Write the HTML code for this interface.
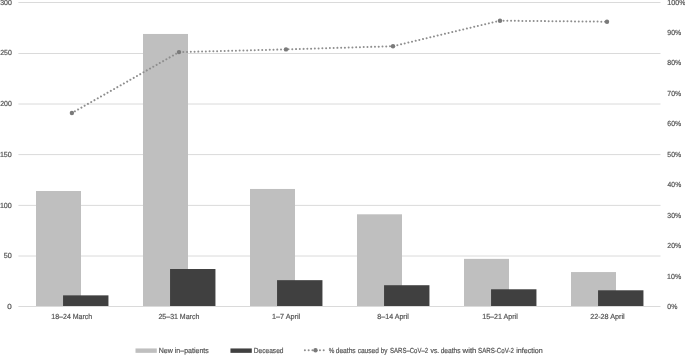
<!DOCTYPE html>
<html lang="en"><head><meta charset="utf-8"><title>Chart</title>
<style>html,body{margin:0;padding:0;background:#fff}body{width:685px;height:355px;overflow:hidden}svg{display:block}text{text-rendering:geometricPrecision;stroke:#555555;stroke-width:0.2px;font-family:"Liberation Sans",Arial,sans-serif;font-size:7.4px;fill:#555555}</style></head><body>
<svg width="685" height="355" viewBox="0 0 685 355">
<rect width="685" height="355" fill="#ffffff"/>
<line x1="18.4" y1="256.00" x2="660.5" y2="256.00" stroke="#dadada" stroke-width="1"/>
<line x1="18.4" y1="205.40" x2="660.5" y2="205.40" stroke="#dadada" stroke-width="1"/>
<line x1="18.4" y1="154.60" x2="660.5" y2="154.60" stroke="#dadada" stroke-width="1"/>
<line x1="18.4" y1="104.00" x2="660.5" y2="104.00" stroke="#dadada" stroke-width="1"/>
<line x1="18.4" y1="53.50" x2="660.5" y2="53.50" stroke="#dadada" stroke-width="1"/>
<line x1="18.4" y1="2.50" x2="660.5" y2="2.50" stroke="#dadada" stroke-width="1"/>
<rect x="36.00" y="191.00" width="45" height="115.00" fill="#bfbfbf"/>
<rect x="143.00" y="33.96" width="45" height="272.04" fill="#bfbfbf"/>
<rect x="250.00" y="188.97" width="45" height="117.03" fill="#bfbfbf"/>
<rect x="357.00" y="214.30" width="45" height="91.70" fill="#bfbfbf"/>
<rect x="464.00" y="258.88" width="45" height="47.12" fill="#bfbfbf"/>
<rect x="571.00" y="272.05" width="45" height="33.95" fill="#bfbfbf"/>
<rect x="63.05" y="295.36" width="45.4" height="10.64" fill="#404040"/>
<rect x="170.05" y="269.01" width="45.4" height="36.99" fill="#404040"/>
<rect x="277.05" y="280.16" width="45.4" height="25.84" fill="#404040"/>
<rect x="384.05" y="285.22" width="45.4" height="20.78" fill="#404040"/>
<rect x="491.05" y="289.28" width="45.4" height="16.72" fill="#404040"/>
<rect x="598.05" y="290.29" width="45.4" height="15.71" fill="#404040"/>
<line x1="18.4" y1="306.50" x2="660.5" y2="306.50" stroke="#dadada" stroke-width="1"/>
<path d="M71.9 113.0 L179.0 52.1 L286.0 49.4 L393.0 46.2 L500.0 20.7 L607.0 21.7" fill="none" stroke="#8e8e8e" stroke-width="2" stroke-linecap="round" stroke-dasharray="0.01 3.75" stroke-dashoffset="0.35"/>
<circle cx="71.9" cy="113.0" r="2.2" fill="#7a7a7a"/>
<circle cx="179.0" cy="52.1" r="2.2" fill="#7a7a7a"/>
<circle cx="286.0" cy="49.4" r="2.2" fill="#7a7a7a"/>
<circle cx="393.0" cy="46.2" r="2.2" fill="#7a7a7a"/>
<circle cx="500.0" cy="20.7" r="2.2" fill="#7a7a7a"/>
<circle cx="607.0" cy="21.7" r="2.2" fill="#7a7a7a"/>
<text id="l300" x="0.15" y="4.60" textLength="11.62" lengthAdjust="spacingAndGlyphs">300</text>
<text id="l250" x="0.15" y="55.33" textLength="11.62" lengthAdjust="spacingAndGlyphs">250</text>
<text id="l200" x="0.15" y="106.06" textLength="11.62" lengthAdjust="spacingAndGlyphs">200</text>
<text id="l150" x="-0.10" y="156.79" textLength="11.90" lengthAdjust="spacingAndGlyphs">150</text>
<text id="l100" x="-0.10" y="207.52" textLength="11.90" lengthAdjust="spacingAndGlyphs">100</text>
<text id="l50" x="3.75" y="258.25" textLength="8.04" lengthAdjust="spacingAndGlyphs">50</text>
<text id="l0" x="7.35" y="308.98" textLength="4.47" lengthAdjust="spacingAndGlyphs">0</text>
<text id="r0" x="667.35" y="308.98" textLength="10.02" lengthAdjust="spacingAndGlyphs">0%</text>
<text id="r1" x="667.10" y="278.54" textLength="14.09" lengthAdjust="spacingAndGlyphs">10%</text>
<text id="r2" x="667.35" y="248.10" textLength="13.82" lengthAdjust="spacingAndGlyphs">20%</text>
<text id="r3" x="667.35" y="217.67" textLength="13.82" lengthAdjust="spacingAndGlyphs">30%</text>
<text id="r4" x="667.60" y="187.23" textLength="13.56" lengthAdjust="spacingAndGlyphs">40%</text>
<text id="r5" x="667.35" y="156.79" textLength="13.82" lengthAdjust="spacingAndGlyphs">50%</text>
<text id="r6" x="667.35" y="126.35" textLength="13.82" lengthAdjust="spacingAndGlyphs">60%</text>
<text id="r7" x="667.35" y="95.91" textLength="13.82" lengthAdjust="spacingAndGlyphs">70%</text>
<text id="r8" x="667.35" y="65.48" textLength="13.82" lengthAdjust="spacingAndGlyphs">80%</text>
<text id="r9" x="667.35" y="35.04" textLength="13.82" lengthAdjust="spacingAndGlyphs">90%</text>
<text id="r10" x="667.35" y="4.60" textLength="18.15" lengthAdjust="spacingAndGlyphs">100%</text>
<text id="c0" x="51.30" y="318.80" textLength="40.96" lengthAdjust="spacingAndGlyphs">18–24 March</text>
<text id="c1" x="158.45" y="318.80" textLength="40.91" lengthAdjust="spacingAndGlyphs">25–31 March</text>
<text id="c2" x="272.00" y="318.80" textLength="28.18" lengthAdjust="spacingAndGlyphs">1–7 April</text>
<text id="c3" x="377.35" y="318.80" textLength="31.51" lengthAdjust="spacingAndGlyphs">8–14 April</text>
<text id="c4" x="482.20" y="318.80" textLength="35.57" lengthAdjust="spacingAndGlyphs">15–21 April</text>
<text id="c5" x="590.15" y="318.80" textLength="34.56" lengthAdjust="spacingAndGlyphs">22-28 April</text>
<text id="g0" x="158.70" y="352.70" textLength="50.11" lengthAdjust="spacingAndGlyphs">New in–patients</text>
<text id="g1" x="253.80" y="352.70" textLength="29.67" lengthAdjust="spacingAndGlyphs">Deceased</text>
<text y="352.7"><tspan id="w0" x="328.65" textLength="5.57" lengthAdjust="spacingAndGlyphs">%</tspan> <tspan id="w1" x="335.75" textLength="19.91" lengthAdjust="spacingAndGlyphs">deaths</tspan> <tspan id="w2" x="357.65" textLength="21.26" lengthAdjust="spacingAndGlyphs">caused</tspan> <tspan id="w3" x="380.75" textLength="6.76" lengthAdjust="spacingAndGlyphs">by</tspan> <tspan id="w4" x="390.05" textLength="38.11" lengthAdjust="spacingAndGlyphs">SARS–CoV–2</tspan> <tspan id="w5" x="430.50" textLength="8.64" lengthAdjust="spacingAndGlyphs">vs.</tspan> <tspan id="w6" x="440.65" textLength="19.86" lengthAdjust="spacingAndGlyphs">deaths</tspan> <tspan id="w7" x="462.60" textLength="13.82" lengthAdjust="spacingAndGlyphs">with</tspan> <tspan id="w8" x="478.05" textLength="35.81" lengthAdjust="spacingAndGlyphs">SARS-CoV-2</tspan> <tspan id="w9" x="516.15" textLength="26.57" lengthAdjust="spacingAndGlyphs">infection</tspan></text>
<rect x="135.5" y="348.45" width="21.3" height="4.4" fill="#bfbfbf"/>
<rect x="230.45" y="348.45" width="21.35" height="4.4" fill="#404040"/>
<path d="M304.9 350.2 L325 350.2" fill="none" stroke="#8e8e8e" stroke-width="2" stroke-linecap="round" stroke-dasharray="0.01 3.75"/>
<circle cx="315.5" cy="350.2" r="2.2" fill="#7a7a7a"/>
</svg></body></html>
